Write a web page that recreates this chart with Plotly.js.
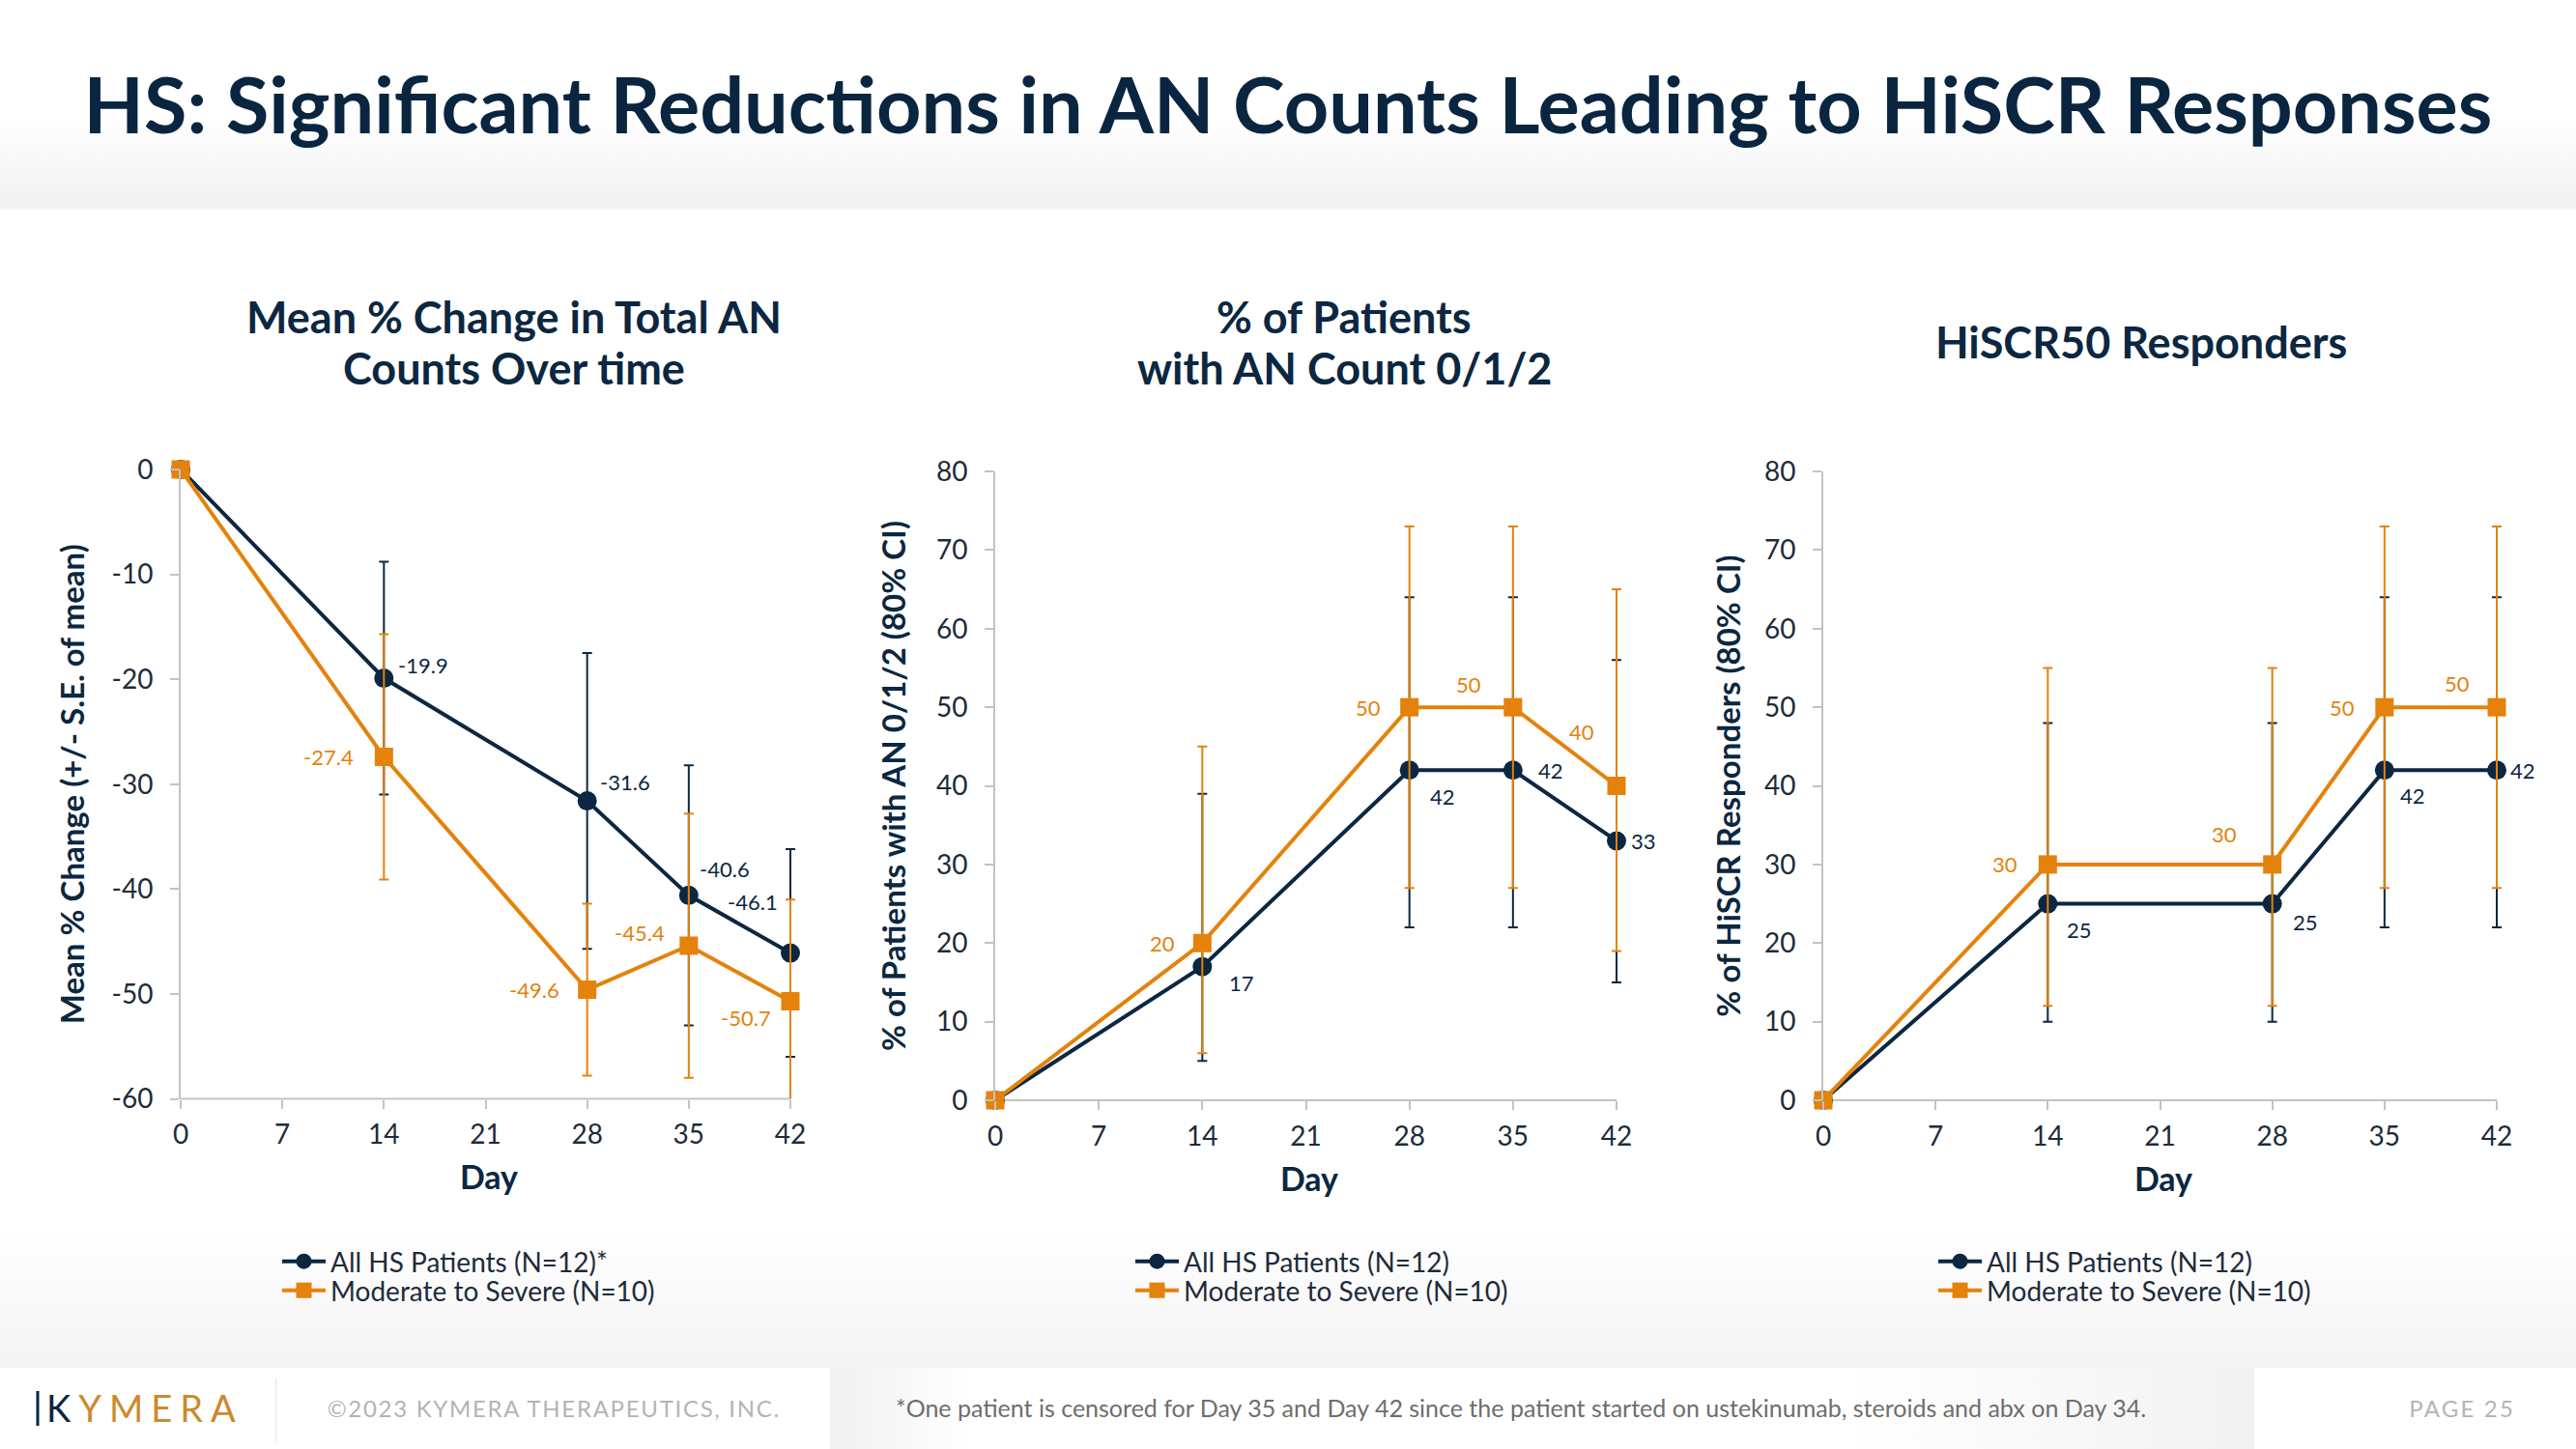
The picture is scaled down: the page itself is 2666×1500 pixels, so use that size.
<!DOCTYPE html>
<html>
<head>
<meta charset="utf-8">
<script src="https://cdn.plot.ly/plotly-3.0.1.min.js"></script>
<style>
html,body{margin:0;padding:0;width:2666px;height:1500px;overflow:hidden;font-family:Lato,sans-serif;}
#bg{position:absolute;left:0;top:0;width:2666px;height:1500px;
 background:linear-gradient(to bottom,#ffffff 0px,#ffffff 120px,#f1f1f1 216px,#ffffff 217px,#ffffff 1270px,#f4f4f4 1416px,#f4f4f4 1500px);}
.fb{position:absolute;top:1416px;height:84px;}
#f1{left:0;width:859px;background:#ffffff;}
#f2{left:859px;width:1474px;background:linear-gradient(to right,#f1f1f1 0px,#ffffff 150px,#ffffff 1050px,#f2f2f2 1474px);}
#f3{left:2333px;width:333px;background:#ffffff;}
#sep{position:absolute;left:285px;top:1426px;width:1px;height:66px;background:#e4e4e4;}
#chart{position:absolute;left:0;top:0;width:2666px;height:1500px;}
</style>
</head>
<body>
<div id="bg"></div>
<div class="fb" id="f1"></div>
<div class="fb" id="f2"></div>
<div class="fb" id="f3"></div>
<div id="sep"></div>
<div id="chart"></div>
<script>
// ---------- DATA ----------
const days = [0, 14, 28, 35, 42];
const dayTicks = [0, 7, 14, 21, 28, 35, 42];

// Chart 1: Mean % change in total AN counts (+/- S.E.)
const anChangeAll = [0, -19.9, -31.6, -40.6, -46.1];
const anChangeAllSE = [null, 11.1, 14.1, 12.4, 9.9];
const anChangeMod = [0, -27.4, -49.6, -45.4, -50.7];
const anChangeModSE = [null, 11.7, 8.2, 12.6, 9.7];

// Chart 2: % of patients with AN count 0/1/2 (80% CI)
const an012All = [0, 17, 42, 42, 33];
const an012AllHi = [null, 39, 64, 64, 56];
const an012AllLo = [null, 5, 22, 22, 15];
const an012Mod = [0, 20, 50, 50, 40];
const an012ModHi = [null, 45, 73, 73, 65];
const an012ModLo = [null, 6, 27, 27, 19];

// Chart 3: HiSCR50 responders (80% CI)
const hiscrAll = [0, 25, 25, 42, 42];
const hiscrAllHi = [null, 48, 48, 64, 64];
const hiscrAllLo = [null, 10, 10, 22, 22];
const hiscrMod = [0, 30, 30, 50, 50];
const hiscrModHi = [null, 55, 55, 73, 73];
const hiscrModLo = [null, 12, 12, 27, 27];

const yTicks1 = [0, -10, -20, -30, -40, -50, -60];
const yTicks23 = [0, 10, 20, 30, 40, 50, 60, 70, 80];

const chartTitles = [["Mean % Change in Total AN", "Counts Over time"], ["% of Patients", "with AN Count 0/1/2"], ["HiSCR50 Responders"]];
const yTitles = ["Mean % Change (+/- S.E. of mean)", "% of Patients with AN 0/1/2 (80% CI)", "% of HiSCR Responders (80% CI)"];
const xTitle = "Day";
const nameAll1 = "All HS Patients (N=12)*";
const nameAll = "All HS Patients (N=12)";
const nameMod = "Moderate to Severe (N=10)";
const mainTitle = "HS: Significant Reductions in AN Counts Leading to HiSCR Responses";
const footnote = "*One patient is censored for Day 35 and Day 42 since the patient started on ustekinumab, steroids and abx on Day 34.";
const copyright = "©2023 KYMERA THERAPEUTICS, INC.";
const pageLabel = "PAGE 25";
const logoK = "K";
const logoRest = "YMERA";

// ---------- STYLE ----------
const NAVY = "#0b2741";
const ORANGE = "#e5820b";
const GOLD = "#cc8a2e";
const FONT = "Lato, 'Open Sans', sans-serif";
const W = 2666, H = 1500;

// label offsets (px) [xshift, yshift(up)] per point, styling only
const offAll1 = [null, [41, 14], [39, 20], [37, 27], [-39, 53]];
const offMod1 = [null, [-57, 0], [-55, 0], [-51, 13], [-46, -17]];
const offAll2 = [null, [41, -17], [34, -27], [39, 0], [28, 0]];
const offMod2 = [null, [-41, 0], [-43, 0], [-46, 24], [-36, 56]];
const offAll3 = [null, [33, -27], [34, -19], [29, -26], [27, 0]];
const offMod3 = [null, [-44, 0], [-50, 31], [-44, 0], [-41, 25]];

function diff(a, b) { return a.map((v, i) => (v == null || b[i] == null) ? null : +(v - b[i]).toFixed(3)); }

function series(name, x, y, color, symbol, size, err, axIdx, legendId) {
  const sfx = axIdx === 1 ? "" : String(axIdx);
  return {
    type: "scatter", mode: "lines+markers", name: name, x: x, y: y,
    xaxis: "x" + sfx, yaxis: "y" + sfx, legend: legendId, showlegend: true,
    line: {color: color, width: 4},
    marker: {color: color, symbol: symbol, size: size, line: {width: 0}},
    error_y: Object.assign({type: "data", visible: true, color: color, thickness: 2, width: 5}, err),
    cliponaxis: false, hoverinfo: "x+y"
  };
}

const traces = [
  series(nameAll1, days, anChangeAll, NAVY, "circle", 20, {symmetric: true, array: anChangeAllSE}, 1, "legend"),
  series(nameMod, days, anChangeMod, ORANGE, "square", 19, {symmetric: true, array: anChangeModSE}, 1, "legend2"),
  series(nameAll, days, an012All, NAVY, "circle", 20, {symmetric: false, array: diff(an012AllHi, an012All), arrayminus: diff(an012All, an012AllLo)}, 2, "legend3"),
  series(nameMod, days, an012Mod, ORANGE, "square", 19, {symmetric: false, array: diff(an012ModHi, an012Mod), arrayminus: diff(an012Mod, an012ModLo)}, 2, "legend4"),
  series(nameAll, days, hiscrAll, NAVY, "circle", 20, {symmetric: false, array: diff(hiscrAllHi, hiscrAll), arrayminus: diff(hiscrAll, hiscrAllLo)}, 3, "legend5"),
  series(nameMod, days, hiscrMod, ORANGE, "square", 19, {symmetric: false, array: diff(hiscrModHi, hiscrMod), arrayminus: diff(hiscrMod, hiscrModLo)}, 3, "legend6")
];

// ---------- LAYOUT ----------
const px = v => v / W;
const py = v => 1 - v / H;
// plot areas in px: [x of day 0, x of day 42], [y bottom, y top]
const xPix = [[187, 818], [1030, 1673], [1887, 2584]];
const yPix = [[1137.5, 486], [1139, 488], [1139, 488]];
const EXTRA = 7; // px of room past day 42 so the last error-bar caps are not clipped
const yRanges = [[-60, 0], [0, 80], [0, 80]];
const yTickVals = [yTicks1, yTicks23, yTicks23];
const yStandoff = [18, 21, 14];

const layout = {
  width: W, height: H,
  margin: {l: 0, r: 0, t: 0, b: 0},
  paper_bgcolor: "rgba(0,0,0,0)", plot_bgcolor: "rgba(0,0,0,0)",
  font: {family: FONT, color: NAVY},
  title: {text: "<b>" + mainTitle + "</b>", x: 0.5, xanchor: "center", y: py(110), yanchor: "middle", yref: "paper",
          font: {family: FONT, size: 81, color: "#0a2540"}},
  annotations: [], shapes: []
};

for (let i = 0; i < 3; i++) {
  const sfx = i === 0 ? "" : String(i + 1);
  const pxPerDay = (xPix[i][1] - xPix[i][0]) / 42;
  layout["xaxis" + sfx] = {
    domain: [px(xPix[i][0]), px(xPix[i][1] + EXTRA)], anchor: "y" + sfx, range: [0, 42 + EXTRA / pxPerDay], tickvals: dayTicks,
    showline: false, ticks: "outside", ticklen: 9, tickwidth: 2, tickcolor: "#c3c3c3",
    showgrid: false, zeroline: false, tickfont: {family: FONT, size: 28, color: "#1e2b3a"}, ticklabelstandoff: 3,
    title: {text: "<b>" + xTitle + "</b>", font: {family: FONT, size: 34, color: NAVY}, standoff: 18}
  };
  layout["yaxis" + sfx] = {
    domain: [py(yPix[i][0]), py(yPix[i][1])], anchor: "x" + sfx, range: yRanges[i],
    tickvals: yTickVals[i], ticktext: yTickVals[i].map(v => String(v)),
    showline: true, linecolor: "#c3c3c3", linewidth: 2, ticks: "outside", ticklen: 9, tickwidth: 2, tickcolor: "#c3c3c3",
    showgrid: false, zeroline: false, tickfont: {family: FONT, size: 28, color: "#1e2b3a"}, ticklabelstandoff: 12,
    title: {text: "<b>" + yTitles[i] + "</b>", font: {family: FONT, size: 33, color: NAVY}, standoff: yStandoff[i]}
  };
  // x axis line from day 0 to day 42 only
  layout.shapes.push({type: "line", xref: "x" + sfx, yref: "y" + sfx + " domain", x0: 0, x1: 42, y0: 0, y1: 0,
    line: {color: "#c3c3c3", width: 2}, layer: "below"});
}

// subplot titles
const subX = [532, 1391, 2216];
const subLineY = [[328, 381], [328, 381], [354]];
chartTitles.forEach((lines, i) => {
  lines.forEach((t, j) => {
    layout.annotations.push({text: "<b>" + t + "</b>", x: px(subX[i]), y: py(subLineY[i][j]), xref: "paper", yref: "paper",
      xanchor: "center", yanchor: "middle", showarrow: false, align: "center",
      font: {family: FONT, size: 45, color: NAVY}});
  });
});

// data labels
function addLabels(vals, offs, color, axIdx) {
  const sfx = axIdx === 1 ? "" : String(axIdx);
  vals.forEach((v, i) => {
    if (!offs[i]) return;
    layout.annotations.push({text: String(v), x: days[i], y: v, xref: "x" + sfx, yref: "y" + sfx,
      xshift: offs[i][0], yshift: offs[i][1], showarrow: false, xanchor: "center", yanchor: "middle",
      font: {family: FONT, size: 22, color: color}});
  });
}
addLabels(anChangeAll, offAll1, NAVY, 1);
addLabels(anChangeMod, offMod1, ORANGE, 1);
addLabels(an012All, offAll2, NAVY, 2);
addLabels(an012Mod, offMod2, ORANGE, 2);
addLabels(hiscrAll, offAll3, NAVY, 3);
addLabels(hiscrMod, offMod3, ORANGE, 3);

// legends: one per entry so rows can be placed exactly
const legX = [287, 287, 1170, 1170, 2001, 2001];
const legY = [1306, 1336, 1306, 1336, 1306, 1336];
["legend", "legend2", "legend3", "legend4", "legend5", "legend6"].forEach((id, i) => {
  layout[id] = {x: px(legX[i]), xanchor: "left", y: py(legY[i]), yanchor: "middle", orientation: "v",
    bgcolor: "rgba(0,0,0,0)", borderwidth: 0, font: {family: FONT, size: 28, color: "#1e2b3a"},
    itemwidth: 45, itemsizing: "trace"};
});

// footer texts (letter-spaced ones get an xshift so their left edge stays put)
const footer = [
  {text: '<span style="color:' + NAVY + '">' + logoK + '</span><span style="color:' + GOLD + '">' + logoRest + '</span>',
   plain: logoK + logoRest, x: 46, size: 38, color: NAVY, spacing: 8},
  {text: copyright, plain: copyright, x: 337, size: 24, color: "#b4b4b4", spacing: 1.7},
  {text: footnote, plain: footnote, x: 925, size: 25, color: "#6e6e6e", spacing: 0},
  {text: pageLabel, plain: pageLabel, x: 2491, size: 24, color: "#b4b4b4", spacing: 2.2}
];
footer.forEach(f => {
  layout.annotations.push({text: f.text, x: px(f.x), y: py(1457), xref: "paper", yref: "paper", xanchor: "left", yanchor: "middle",
    xshift: f.spacing * f.plain.length / 2, showarrow: false, font: {family: FONT, size: f.size, color: f.color}});
});
layout.shapes.push({type: "line", xref: "paper", yref: "paper", x0: px(39), x1: px(39), y0: py(1440), y1: py(1476),
  line: {color: NAVY, width: 3}});

Plotly.newPlot("chart", traces, layout, {displayModeBar: false, staticPlot: true}).then(gd => {
  const spacing = {};
  footer.forEach(f => { if (f.spacing) spacing[f.plain] = f.spacing + "px"; });
  gd.querySelectorAll(".annotation-text").forEach(t => {
    const s = spacing[t.textContent];
    if (s) t.setAttribute("letter-spacing", s);
  });
});
</script>
</body>
</html>
